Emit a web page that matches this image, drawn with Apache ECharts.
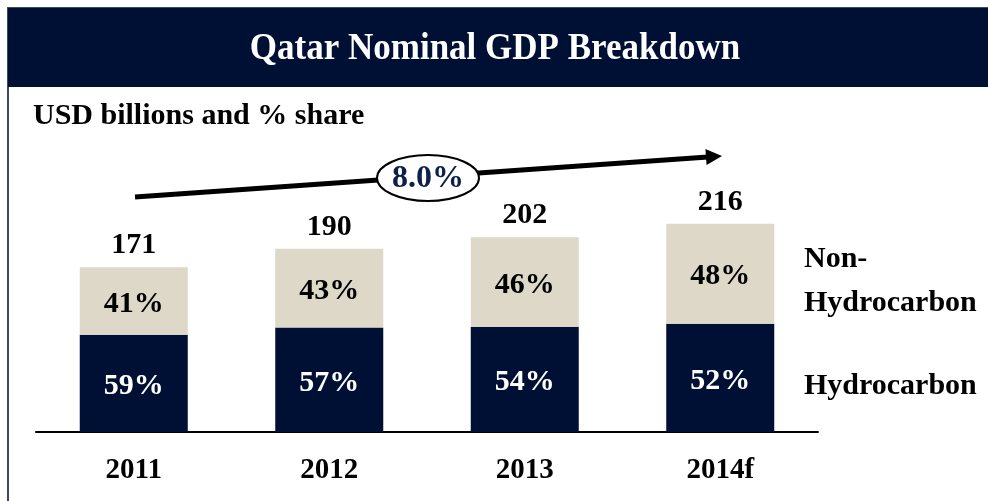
<!DOCTYPE html>
<html>
<head>
<meta charset="utf-8">
<script src="https://cdn.jsdelivr.net/npm/echarts@6/dist/echarts.min.js"></script>
<style>
  html, body { margin: 0; padding: 0; background: #ffffff; }
  #chart { width: 988px; height: 501px; }
</style>
</head>
<body>
<div id="chart"></div>
<script>
// Qatar nominal GDP, USD billions, with sector shares (%)
const years = ['2011', '2012', '2013', '2014f'];
const totals = [171, 190, 202, 216];
const hydroShare = [59, 57, 54, 52];
const nonHydroShare = [41, 43, 46, 48];
const growthLabel = '8.0%';

const NAVY = '#001035';
const BEIGE = '#ddd8c7';
const FONT = '"Liberation Serif", "Times New Roman", serif';

// segment heights come from the stated totals and shares
const hydroValues = totals.map((t, i) => +(t * hydroShare[i] / 100).toFixed(2));
const nonHydroValues = totals.map((t, i) => +(t * nonHydroShare[i] / 100).toFixed(2));

const chart = echarts.init(document.getElementById('chart'));

const boldText = (size, color) => ({
  fontFamily: FONT, fontWeight: 'bold', fontSize: size, color: color
});

chart.setOption({
  animation: false,
  backgroundColor: '#ffffff',
  grid: { left: 36, right: 170, top: 191, bottom: 69 },
  xAxis: {
    type: 'category',
    data: years,
    axisLine: { lineStyle: { color: '#000000', width: 2 } },
    axisTick: { show: false },
    axisLabel: Object.assign({ margin: 24 }, boldText(29, '#000000'))
  },
  yAxis: {
    type: 'value', min: 0, max: 250,
    show: false, splitLine: { show: false }
  },
  series: [
    {
      name: 'Hydrocarbon', type: 'bar', stack: 'gdp', barWidth: 108,
      data: hydroValues,
      itemStyle: { color: NAVY },
      label: Object.assign({
        show: true, position: 'inside', offset: [0, 3],
        formatter: p => hydroShare[p.dataIndex] + '%'
      }, boldText(30, '#ffffff'))
    },
    {
      name: 'Non-Hydrocarbon', type: 'bar', stack: 'gdp', barWidth: 108,
      data: nonHydroValues,
      itemStyle: { color: BEIGE },
      label: Object.assign({
        show: true, position: 'inside', offset: [0, 3],
        formatter: p => nonHydroShare[p.dataIndex] + '%'
      }, boldText(30, '#000000'))
    },
    {
      // zero-height cap that carries the total above each column
      name: 'Total', type: 'bar', stack: 'gdp', barWidth: 108,
      data: totals.map(() => 0),
      itemStyle: { color: 'transparent' },
      label: Object.assign({
        show: true, position: 'top', distance: 7,
        formatter: p => String(totals[p.dataIndex])
      }, boldText(30, '#000000'))
    }
  ],
  graphic: [
    // outer frame
    { type: 'rect', shape: { x: 8, y: 8, width: 990, height: 500 },
      style: { fill: 'none', stroke: '#3c4866', lineWidth: 2 }, z: 0 },
    // title band
    { type: 'rect', shape: { x: 8, y: 8, width: 990, height: 79 },
      style: { fill: NAVY }, z: 1 },
    { type: 'text', x: 495, y: 49, scaleY: 1.1, z: 2,
      style: { text: 'Qatar Nominal GDP Breakdown', fill: '#ffffff',
        font: 'bold 35px ' + FONT, textAlign: 'center', textVerticalAlign: 'middle' } },
    { type: 'text', x: 33, y: 116, z: 2,
      style: { text: 'USD billions and % share', fill: '#000000',
        font: 'bold 30px ' + FONT, textAlign: 'left', textVerticalAlign: 'middle' } },
    // growth arrow
    { type: 'line', z: 3,
      shape: { x1: 135, y1: 197, x2: 708, y2: 157 },
      style: { stroke: '#000000', lineWidth: 5 } },
    { type: 'polygon', z: 3,
      shape: { points: [[722, 156], [705.4, 149], [706.6, 165]] },
      style: { fill: '#000000' } },
    { type: 'ellipse', z: 4,
      shape: { cx: 428, cy: 178, rx: 51, ry: 23 },
      style: { fill: '#ffffff', stroke: '#000000', lineWidth: 2 } },
    { type: 'text', x: 428, y: 179, z: 5,
      style: { text: growthLabel, fill: '#0f1f4b',
        font: 'bold 32px ' + FONT, textAlign: 'center', textVerticalAlign: 'middle' } },
    // segment names at the right
    { type: 'text', x: 804, y: 281, z: 2,
      style: { text: 'Non-\nHydrocarbon', fill: '#000000', lineHeight: 44,
        font: 'bold 30px ' + FONT, textAlign: 'left', textVerticalAlign: 'middle' } },
    { type: 'text', x: 804, y: 386, z: 2,
      style: { text: 'Hydrocarbon', fill: '#000000',
        font: 'bold 30px ' + FONT, textAlign: 'left', textVerticalAlign: 'middle' } }
  ]
});
</script>
</body>
</html>
